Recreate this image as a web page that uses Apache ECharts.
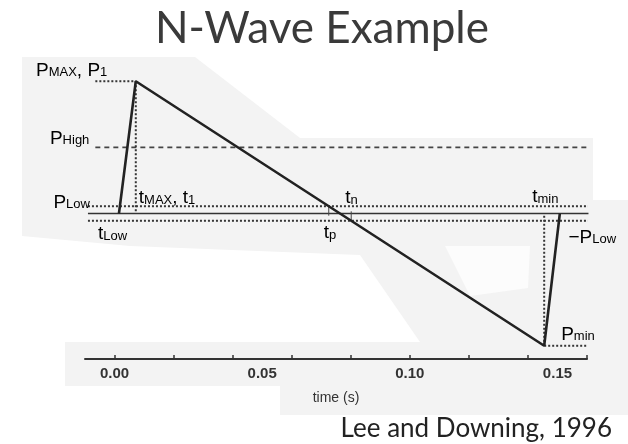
<!DOCTYPE html>
<html>
<head>
<meta charset="utf-8">
<script src="https://cdn.jsdelivr.net/npm/echarts@6/dist/echarts.min.js"></script>
<style>
  html, body { margin: 0; padding: 0; background: #ffffff; }
  #chart { width: 628px; height: 444px; }
</style>
</head>
<body>
<div id="chart"></div>
<script>
// Time axis (s): labelled values and tick marks
const tickLabels = [0.00, 0.05, 0.10, 0.15];
const tickMarks = [0.00, 0.02, 0.04, 0.06, 0.08, 0.10, 0.12, 0.14, 0.16];

// N-wave vertices: rise at tLow, peak at tMAX, linear decay to Pmin, recovery
const waveTimes = [0.0015, 0.0072, 0.1455, 0.1508];
const wavePressures = [0, 1, -1, 0];

// Reference pressure levels (normalised to PMAX)
const pMax = 1;
const pHigh = 0.5;
const pLow = 0.055;
const pMin = -1;

// Horizontal extent of the reference lines (s)
const lineStartLow = -0.009;
const lineStartHigh = -0.0065;
const lineEnd = 0.1605;

const tLow = waveTimes[0];
const tMaxT = waveTimes[1];
const tMinT = waveTimes[2];

// times where the decaying segment crosses +PLow and -PLow
const slope = (wavePressures[2] - wavePressures[1]) / (tMinT - tMaxT);
const tP = tMaxT + (pLow - pMax) / slope;
const tN = tMaxT + (-pLow - pMax) / slope;

const ink = '#222';
const dotted = { color: '#363636', width: 2, type: [2, 2] };

function seg(points, style) {
  return {
    type: 'line', data: points, symbol: 'none', silent: true,
    lineStyle: style, z: 3, animation: false
  };
}

const chart = echarts.init(document.getElementById('chart'), null, { renderer: 'canvas' });

const option = {
  animation: false,
  backgroundColor: '#ffffff',
  grid: { left: 85, right: 41, top: 68, bottom: 85 },
  xAxis: {
    type: 'value', min: -0.01, max: 0.16,
    name: 'time (s)', nameLocation: 'middle', nameGap: 32,
    nameTextStyle: { fontFamily: 'Liberation Sans', fontSize: 14, color: '#333' },
    axisLine: { show: true, onZero: false, lineStyle: { color: '#333', width: 2 } },
    axisTick: { show: true, inside: true, length: 4, customValues: tickMarks, lineStyle: { color: '#333', width: 1.5 } },
    axisLabel: {
      customValues: tickLabels, margin: 7,
      fontFamily: 'Liberation Sans', fontWeight: 'bold', fontSize: 15, color: '#333',
      formatter: v => v.toFixed(2)
    },
    splitLine: { show: false }
  },
  yAxis: {
    type: 'value', min: -1.1, max: 1.1, show: false
  },
  series: [
    // baseline and ±PLow bands
    seg([[lineStartLow, 0], [lineEnd, 0]], { color: '#333', width: 1.6, type: 'solid' }),
    seg([[lineStartLow, pLow], [lineEnd, pLow]], dotted),
    seg([[lineStartLow, -pLow], [lineEnd, -pLow]], dotted),
    // PHigh level
    seg([[lineStartHigh, pHigh], [lineEnd, pHigh]], { color: '#444', width: 1.6, type: [5, 4] }),
    // PMAX level and tMAX marker
    seg([[lineStartHigh, pMax], [tMaxT, pMax]], dotted),
    seg([[tMaxT, pMax], [tMaxT, 0]], dotted),
    // Pmin level and tmin marker
    seg([[tMinT, pMin], [lineEnd, pMin]], dotted),
    seg([[tMinT, pMin], [tMinT, 0]], dotted),
    // small crossing marks at tp and tn
    seg([[tP, pLow], [tP, -pLow * 0.3]], { color: '#444', width: 1 }),
    seg([[tN, pLow * 0.3], [tN, -pLow]], { color: '#444', width: 1 }),
    // the N-wave itself
    {
      type: 'line', name: 'N-wave', symbol: 'none', silent: true, z: 5,
      data: waveTimes.map((t, i) => [t, wavePressures[i]]),
      lineStyle: { color: ink, width: 2.6 }
    }
  ]
};
chart.setOption(option);

// faint paper tone behind the figure
const paper = '#f3f3f3';
const bgShapes = [
  [[22, 57], [195, 57], [300, 138], [593, 138], [593, 200], [628, 200], [628, 415],
   [280, 415], [280, 386], [65, 386], [65, 342], [420, 342], [360, 255], [130, 246], [22, 236]]
];
const whiteShapes = [
  [[445, 246], [530, 246], [528, 288], [470, 296]]
];

function px(t, p) { return chart.convertToPixel({ gridIndex: 0 }, [t, p]); }

const labelFont = 'Liberation Sans';
const rich = {
  b: { fontFamily: labelFont, fontSize: 19, color: ink, lineHeight: 20, verticalAlign: 'bottom' },
  s: { fontFamily: labelFont, fontSize: 13, color: ink, lineHeight: 20, verticalAlign: 'bottom', padding: [0, 0, 1, 0] }
};

function label(text, x, y, align) {
  return {
    type: 'text', z: 10, silent: true,
    style: { text, rich, x, y, align: align || 'left', verticalAlign: 'middle' }
  };
}

const aMax = px(lineStartHigh, pMax);
const aHigh = px(lineStartHigh, pHigh);
const aLow = px(lineStartLow, pLow);
const aTMax = px(tMaxT, 0);
const aTLow = px(tLow, 0);
const aTP = px(tP, 0);
const aTN = px(tN, 0);
const aTMin = px(tMinT, 0);
const aEnd = px(lineEnd, -pLow);
const aPMin = px(tMinT, pMin);

const graphics = [];
bgShapes.forEach(s => graphics.push({ type: 'polygon', z: -10, silent: true, shape: { points: s }, style: { fill: paper } }));
whiteShapes.forEach(s => graphics.push({ type: 'polygon', z: -9, silent: true, shape: { points: s }, style: { fill: '#fcfcfc' } }));

graphics.push(
  {
    type: 'text', left: 155, top: 7, silent: true,
    style: { text: 'N-Wave Example', fontFamily: 'Lato', fontSize: 44, fill: '#3a3a3a' }
  },
  {
    type: 'text', right: 16, top: 416, silent: true,
    style: { text: 'Lee and Downing, 1996', fontFamily: 'Lato', fontSize: 26, fill: '#222' }
  },
  label('{b|P}{s|MAX}{b|, P}{s|1}', aMax[0] + 12, aMax[1] - 11, 'right'),
  label('{b|P}{s|High}', aHigh[0] - 6, aHigh[1] - 9, 'right'),
  label('{b|P}{s|Low}', aLow[0] + 2, aLow[1] - 4, 'right'),
  label('{b|t}{s|MAX}{b|, t}{s|1}', aTMax[0] + 3, aTMax[1] - 16),
  label('{b|t}{s|Low}', aTLow[0] - 21, aTLow[1] + 20),
  label('{b|t}{s|n}', aTN[0] - 6, aTN[1] - 16),
  label('{b|t}{s|p}', aTP[0] - 5, aTP[1] + 19),
  label('{b|t}{s|min}', aTMin[0] - 12, aTMin[1] - 17),
  label('{b|\u2212P}{s|Low}', aEnd[0] - 20, aEnd[1] + 16),
  label('{b|P}{s|min}', aPMin[0] + 17, aPMin[1] - 12)
);

chart.setOption({ graphic: graphics });
</script>
</body>
</html>
